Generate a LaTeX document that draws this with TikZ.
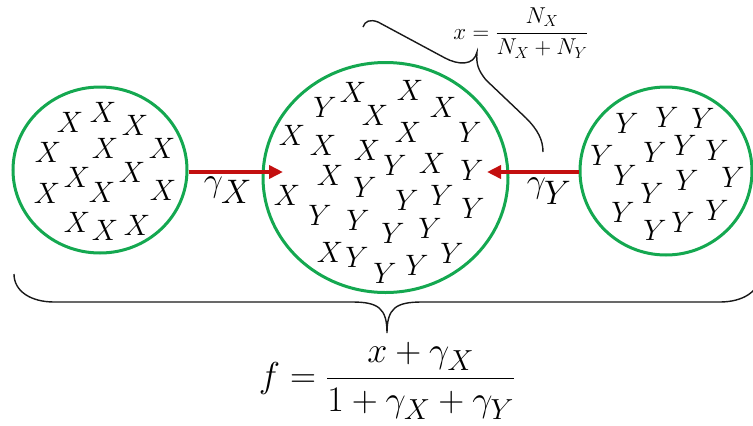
\RequirePackage{fix-cm}
\documentclass[tikz,border=0pt]{standalone}
\usepackage{amsmath}
\usetikzlibrary{shapes.geometric,arrows.meta,decorations.pathreplacing}
\DeclareMathSizes{36}{36}{29}{21}
\definecolor{poolgreen}{RGB}{20,168,80}
\definecolor{flowred}{RGB}{195,15,15}
\begin{document}
\begin{tikzpicture}[x=1pt,y=-1pt,
  pool/.style={ellipse,draw=poolgreen,line width=3pt,inner sep=0pt},
  letter/.style={font=\fontsize{29.5}{35}\selectfont,inner sep=0pt},
  flow/.style={draw=flowred,line width=4pt,-{Triangle[length=14pt,width=13pt]}},
  ratelabel/.style={font=\fontsize{34}{40}\selectfont,inner sep=0pt},
  bracepath/.style={draw=black!90,line width=1.4pt},
]
\useasboundingbox (0,0) rectangle (753,426);
% pools
\node[pool,minimum width=174pt,minimum height=166pt] (L) at (100,170) {};
\node[pool,minimum width=245pt,minimum height=230pt] (M) at (385.5,177.5) {};
\node[pool,minimum width=172pt,minimum height=168pt] (R) at (666,171) {};
% letters
\foreach \px/\py [count=\i] in {70/122,103/112,135/125,48/152,105/148,162/148,47/193,77/177,102/192,132/172,163/190,77/222,105/230,137/225}
  \node[letter] (lx\i) at (\px,\py) {$X$};
\foreach \px/\py [count=\i] in {353/92,410/90,375/115,443/107,292/135,323/145,408/132,367/150,432/163,330/175,287/195,330/252}
  \node[letter] (mx\i) at (\px,\py) {$X$};
\foreach \px/\py [count=\i] in {325/107,470/132,395/165,472/170,365/187,407/200,442/195,473/208,320/215,358/220,393/233,430/228,357/257,385/273,417/265,452/253}
  \node[letter] (my\i) at (\px,\py) {$Y$};
\foreach \px/\py [count=\i] in {627/123,667/117,703/118,602/155,655/152,685/145,717/150,625/175,687/180,733/177,652/193,623/212,655/230,683/222,717/210}
  \node[letter] (ry\i) at (\px,\py) {$Y$};
% flows
\coordinate (tipL) at (283,172);
\coordinate (tipR) at (487,172);
\draw[flow] (L.east |- tipL) -- (tipL);
\draw[flow] (R.west |- tipR) -- (tipR);
\node[ratelabel] (gx) at (228,190) {$\gamma_{\textstyle X}$};
\node[ratelabel] (gy) at (549,191) {$\gamma_{\textstyle Y}$};
% top brace (bent)
\coordinate (ba) at (363,27);
\coordinate (btop) at (477,52);
\coordinate (bb) at (543,152);
\draw[bracepath] (ba) .. controls (365,21) and (370,19) .. (378,22) -- (445,58)
  .. controls (458,65) and (474,66) .. (btop)
  .. controls (476,64) and (478,70) .. (486,80) -- (526,118)
  .. controls (538,130) and (543,140) .. (bb);
\node[inner sep=0pt] (xlabel) at (521,33) {\fontsize{23}{28}\selectfont $x=\dfrac{N_X}{N_X+N_Y}$};
% bottom brace
\coordinate (bl) at (14,274);
\coordinate (btip) at (387,333);
\coordinate (br) at (760,274);
\draw[bracepath] (bl) .. controls (14,292) and (32,302) .. (54,302) -- (352,302)
  .. controls (378,302) and (387,308) .. (btip)
  .. controls (387,308) and (396,302) .. (422,302) -- (720,302)
  .. controls (742,302) and (760,292) .. (br);
\node[inner sep=0pt] (fformula) at (387,381) {\fontsize{36}{43}\selectfont $f=\dfrac{x+\gamma_X}{1+\gamma_X+\gamma_Y}$};
\end{tikzpicture}
\end{document}
